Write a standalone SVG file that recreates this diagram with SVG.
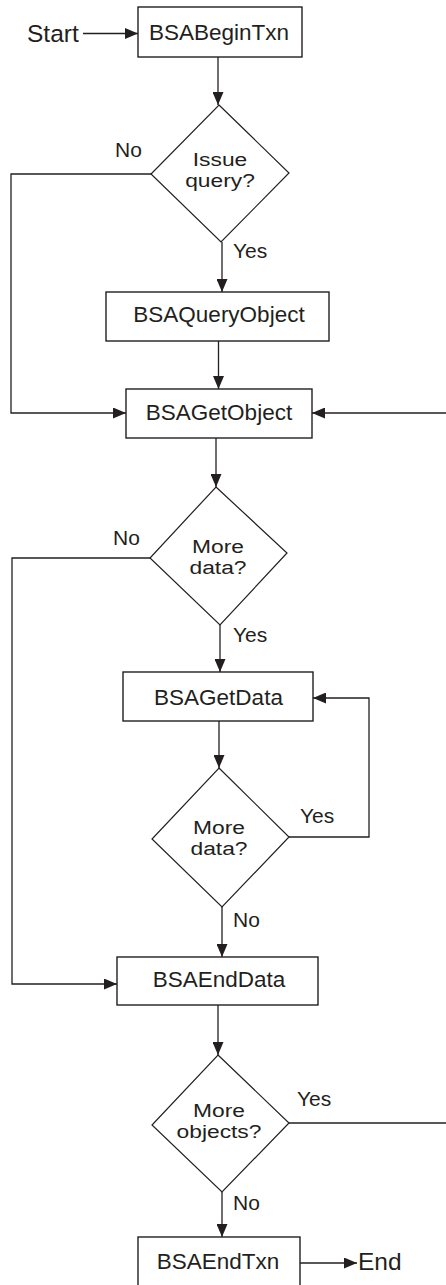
<svg xmlns="http://www.w3.org/2000/svg" width="446" height="1285" viewBox="0 0 446 1285">
  <style>
    .box { fill: #ffffff; stroke: #231f20; stroke-width: 1.4; }
    .dia { fill: #ffffff; stroke: #231f20; stroke-width: 1.2; }
    .wire { fill: none; stroke: #231f20; stroke-width: 1.3; }
    .arr { marker-end: url(#head); }
    text { font-family: "Liberation Sans", Arial, Helvetica, sans-serif; fill: #231f20; }
    .t-box { font-size: 22.5px; text-anchor: middle; }
    .t-dia { font-size: 19px; text-anchor: middle; }
    .t-lbl { font-size: 21px; }
    .t-term { font-size: 24.5px; }
  </style>
  <defs>
    <marker id="head" viewBox="0 0 13 11" refX="13" refY="5.5" markerWidth="13" markerHeight="11" markerUnits="userSpaceOnUse" orient="auto">
      <path d="M0,0 L13,5.5 L0,11 Z" fill="#231f20"/>
    </marker>
  </defs>

  <rect width="446" height="1285" fill="#ffffff"/>

  <!-- connectors -->
  <g id="connectors">
    <path class="wire arr" d="M83,33.5 H138"/>
    <path class="wire arr" d="M218,57 V105"/>
    <path class="wire arr" d="M151,174 H11 V413 H126"/>
    <path class="wire arr" d="M222,242 V292"/>
    <path class="wire arr" d="M218.5,341 V389"/>
    <path class="wire arr" d="M446,413 H312"/>
    <path class="wire arr" d="M216,438 V487"/>
    <path class="wire arr" d="M150,558 H12 V984 H117"/>
    <path class="wire arr" d="M220,625 V672"/>
    <path class="wire arr" d="M219,721 V768"/>
    <path class="wire arr" d="M289,837 H369 V698 H313"/>
    <path class="wire arr" d="M222,907 V957"/>
    <path class="wire arr" d="M218,1005 V1055"/>
    <path class="wire" d="M289,1123 H446"/>
    <path class="wire arr" d="M222,1192 V1237"/>
    <path class="wire arr" d="M300,1263 H357"/>
  </g>

  <!-- branch labels -->
  <g id="labels">
    <text class="t-lbl" x="115" y="157">No</text>
    <text class="t-lbl" x="233" y="258">Yes</text>
    <text class="t-lbl" x="113" y="545">No</text>
    <text class="t-lbl" x="233" y="642">Yes</text>
    <text class="t-lbl" x="300" y="823">Yes</text>
    <text class="t-lbl" x="233" y="927">No</text>
    <text class="t-lbl" x="297" y="1106">Yes</text>
    <text class="t-lbl" x="233" y="1210">No</text>
  </g>

  <!-- terminals -->
  <g id="start"><text class="t-term" x="27" y="42">Start</text></g>
  <g id="end"><text class="t-term" x="358" y="1270">End</text></g>

  <!-- process steps -->
  <g id="begin-txn">
    <rect class="box" x="138" y="7" width="164" height="50"/>
    <text class="t-box" x="219" y="40">BSABeginTxn</text>
  </g>
  <g id="query-object">
    <rect class="box" x="106" y="292" width="223" height="49"/>
    <text class="t-box" x="219" y="322">BSAQueryObject</text>
  </g>
  <g id="get-object">
    <rect class="box" x="126" y="389" width="186" height="49"/>
    <text class="t-box" x="219" y="420">BSAGetObject</text>
  </g>
  <g id="get-data">
    <rect class="box" x="123" y="672" width="190" height="49"/>
    <text class="t-box" x="218.5" y="705">BSAGetData</text>
  </g>
  <g id="end-data">
    <rect class="box" x="117" y="957" width="201" height="48"/>
    <text class="t-box" x="219" y="987">BSAEndData</text>
  </g>
  <g id="end-txn">
    <rect class="box" x="138" y="1237" width="162" height="60"/>
    <text class="t-box" x="218" y="1269">BSAEndTxn</text>
  </g>

  <!-- decisions: captions set in a horizontally widened face -->
  <g id="issue-query">
    <polygon class="dia" points="219,105 289,173 221,242 151,174"/>
    <text class="t-dia" transform="translate(220,0) scale(1.2,1)" y="166"><tspan x="0">Issue</tspan><tspan x="0" dy="21">query?</tspan></text>
  </g>
  <g id="more-data-1">
    <polygon class="dia" points="216,487 287,553 220,625 150,558"/>
    <text class="t-dia" transform="translate(218,0) scale(1.2,1)" y="553"><tspan x="0">More</tspan><tspan x="0" dy="21">data?</tspan></text>
  </g>
  <g id="more-data-2">
    <polygon class="dia" points="219,768 289,837 222,907 152,839"/>
    <text class="t-dia" transform="translate(219,0) scale(1.2,1)" y="834"><tspan x="0">More</tspan><tspan x="0" dy="21">data?</tspan></text>
  </g>
  <g id="more-objects">
    <polygon class="dia" points="218,1055 289,1123 222,1192 152,1125"/>
    <text class="t-dia" transform="translate(219,0) scale(1.2,1)" y="1117"><tspan x="0">More</tspan><tspan x="0" dy="21">objects?</tspan></text>
  </g>
</svg>
